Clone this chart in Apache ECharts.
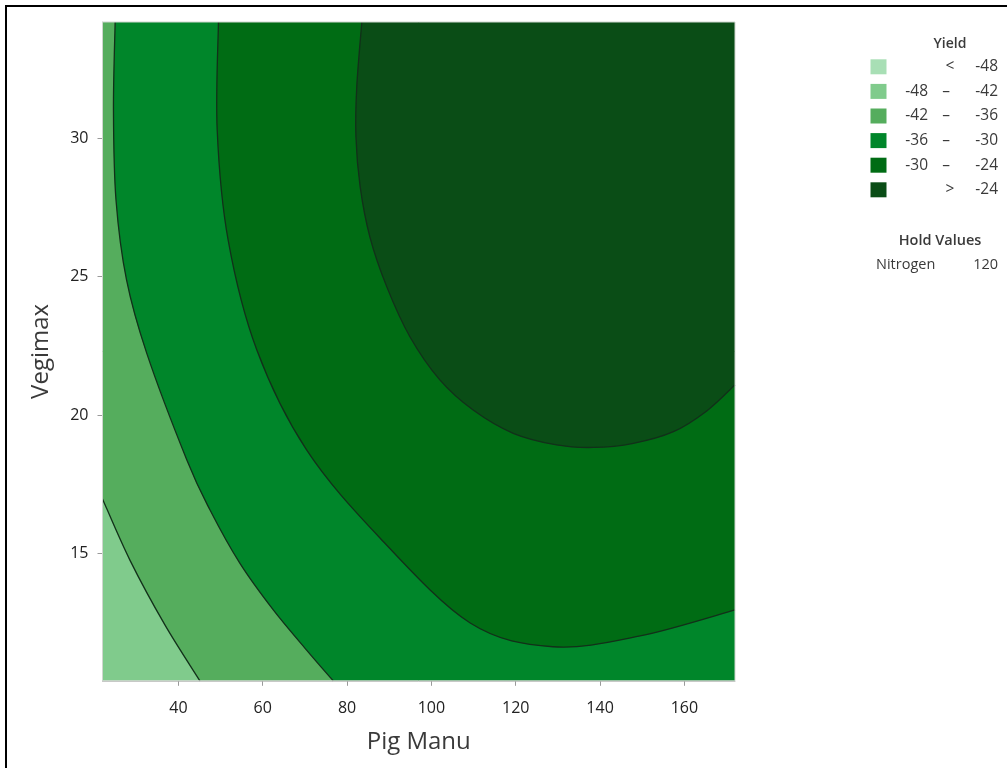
<!DOCTYPE html>
<html><head><meta charset="utf-8">
<script src="https://cdn.jsdelivr.net/npm/echarts@6/dist/echarts.min.js"></script>
<style>html,body{margin:0;padding:0;background:#fff}#c{width:1007px;height:768px}</style>
</head><body><div id="c"></div>
<script>
// ---- data ----
const xRange = [22, 172];          // Pig Manu axis extent
const yRange = [10.4, 34.2];       // Vegimax axis extent
const xTicks = [40, 60, 80, 100, 120, 140, 160];
const yTicks = [15, 20, 25, 30];
const levelLow  = [null, -48, -42, -36, -30, -24];
const levelHigh = [-48, -42, -36, -30, -24, null];
const levelColors = ['#a8dfb5', '#80cb8c', '#55ad5d', '#00862a', '#006c14', '#0a4d16'];
// contour lines [Pig Manu, Vegimax]
const contour42 = [[22,16.97],[28.5,14.76],[36.8,12.42],[45.1,10.4]];
const contour36 = [[25.0,34.2],[24.6,31.02],[25.2,27.77],[27.7,24.88],[32.5,22.23],[42.0,18.38],[47.5,16.57],[54.6,14.64],[62.5,12.96],[70.4,11.51],[76.7,10.4]];
const contour30 = [[49.5,34.2],[49.2,30.3],[51.8,26.32],[58.6,22.35],[70.4,18.74],[87.8,15.56],[109.2,12.49],[128.8,11.63],[149.5,12.02],[172,12.96]];
const contour24 = [[83.5,34.2],[82.3,31.86],[82.1,30.06],[83.1,28.25],[85.4,26.44],[89.4,24.64],[94.9,22.83],[102.0,21.27],[109.9,20.18],[119.4,19.34],[129.7,18.92],[138.4,18.83],[147.9,18.98],[157.4,19.40],[165.3,20.15],[172,21.09]];
const holdFactor = 'Nitrogen';
const holdValue = 120;

// ---- regions (painter's order) ----
const X0 = xRange[0], X1 = xRange[1], Y0 = yRange[0], Y1 = yRange[1];
const regions = [
  { color: 1, contour: null, corners: [[X0,Y0],[X1,Y0],[X1,Y1],[X0,Y1]] },
  { color: 2, contour: contour42, corners: [[X1,Y0],[X1,Y1],[X0,Y1]] },
  { color: 3, contour: contour36, corners: [[X1,Y0],[X1,Y1]] },
  { color: 4, contour: contour30, corners: [[X1,Y1]] },
  { color: 5, contour: contour24, corners: [[X1,Y1]] }
];

function smoothPath(pts) {
  let d = 'M' + pts[0][0] + ' ' + pts[0][1];
  for (let i = 0; i < pts.length - 1; i++) {
    const p0 = pts[Math.max(0, i - 1)], p1 = pts[i], p2 = pts[i + 1], p3 = pts[Math.min(pts.length - 1, i + 2)];
    const c1x = p1[0] + (p2[0] - p0[0]) / 6, c1y = p1[1] + (p2[1] - p0[1]) / 6;
    const c2x = p2[0] - (p3[0] - p1[0]) / 6, c2y = p2[1] - (p3[1] - p1[1]) / 6;
    d += ' C' + c1x + ' ' + c1y + ' ' + c2x + ' ' + c2y + ' ' + p2[0] + ' ' + p2[1];
  }
  return d;
}

function renderItem(params, api) {
  const r = regions[api.value(2)];
  const fill = levelColors[r.color];
  if (!r.contour) {
    const pts = r.corners.map(p => api.coord(p));
    return { type: 'polygon', shape: { points: pts }, style: { fill: fill, stroke: null } };
  }
  const cp = r.contour.map(p => api.coord(p));
  const line = smoothPath(cp);
  let area = line;
  r.corners.forEach(p => { const c = api.coord(p); area += ' L' + c[0] + ' ' + c[1]; });
  area += ' Z';
  return {
    type: 'group',
    children: [
      { type: 'path', shape: { pathData: area }, style: { fill: fill, stroke: null } },
      { type: 'path', shape: { pathData: line }, style: { fill: null, stroke: '#12301a', lineWidth: 1.3 } }
    ]
  };
}

// ---- legend graphics ----
const font = '"Open Sans", "Noto Sans", sans-serif';
const txtColor = '#3a3a3a';
const legendEls = [];
legendEls.push({ type: 'text', x: 950, y: 44, style: { text: 'Yield', fill: txtColor, font: '600 14px ' + font, align: 'center', verticalAlign: 'middle' } });
levelColors.forEach((c, i) => {
  const cy = 66.8 + i * 24.6;
  legendEls.push({ type: 'rect', shape: { x: 870.5, y: cy - 7.5, width: 16, height: 15 }, style: { fill: c } });
  const lo = levelLow[i], hi = levelHigh[i];
  const f = '15.5px ' + font;
  if (lo === null) {
    legendEls.push({ type: 'text', x: 950, y: cy, style: { text: '<', fill: txtColor, font: f, align: 'center', verticalAlign: 'middle' } });
    legendEls.push({ type: 'text', x: 998, y: cy, style: { text: String(hi), fill: txtColor, font: f, align: 'right', verticalAlign: 'middle' } });
  } else if (hi === null) {
    legendEls.push({ type: 'text', x: 950, y: cy, style: { text: '>', fill: txtColor, font: f, align: 'center', verticalAlign: 'middle' } });
    legendEls.push({ type: 'text', x: 998, y: cy, style: { text: String(lo), fill: txtColor, font: f, align: 'right', verticalAlign: 'middle' } });
  } else {
    legendEls.push({ type: 'text', x: 928, y: cy, style: { text: String(lo), fill: txtColor, font: f, align: 'right', verticalAlign: 'middle' } });
    legendEls.push({ type: 'text', x: 946, y: cy, style: { text: '–', fill: txtColor, font: f, align: 'center', verticalAlign: 'middle' } });
    legendEls.push({ type: 'text', x: 998, y: cy, style: { text: String(hi), fill: txtColor, font: f, align: 'right', verticalAlign: 'middle' } });
  }
});
legendEls.push({ type: 'text', x: 940, y: 241, style: { text: 'Hold Values', fill: txtColor, font: '600 14.5px ' + font, align: 'center', verticalAlign: 'middle' } });
legendEls.push({ type: 'text', x: 876, y: 265, style: { text: holdFactor, fill: txtColor, font: '14.5px ' + font, align: 'left', verticalAlign: 'middle' } });
legendEls.push({ type: 'text', x: 998, y: 265, style: { text: String(holdValue), fill: txtColor, font: '14.5px ' + font, align: 'right', verticalAlign: 'middle' } });
// outer frame
legendEls.push({ type: 'rect', shape: { x: 6, y: 6, width: 1100, height: 900 }, style: { fill: null, stroke: '#000', lineWidth: 2 }, z: 100 });

const chart = echarts.init(document.getElementById('c'));
chart.setOption({
  animation: false,
  backgroundColor: '#fff',
  grid: { left: 102.5, right: 272, top: 22, bottom: 87.2, containLabel: false, show: true, borderColor: '#cfd6cf', borderWidth: 1, backgroundColor: 'transparent', z: 3 },
  xAxis: {
    type: 'value', min: X0, max: X1, splitNumber: 7,
    name: 'Pig Manu', nameLocation: 'middle', nameGap: 49,
    nameTextStyle: { fontSize: 24, color: '#3a3a3a', fontFamily: font },
    splitLine: { show: false },
    axisLine: { show: true, onZero: false, lineStyle: { color: '#c4c4c4', width: 1 } },
    axisTick: { show: true, length: 5, lineStyle: { color: '#9a9a9a' }, customValues: xTicks },
    axisLabel: { fontSize: 16, color: '#222', fontFamily: font, margin: 20, customValues: xTicks }
  },
  yAxis: {
    type: 'value', min: Y0, max: Y1, splitNumber: 5,
    name: 'Vegimax', nameLocation: 'middle', nameGap: 49,
    nameTextStyle: { fontSize: 24, color: '#3a3a3a', fontFamily: font },
    splitLine: { show: false },
    axisLine: { show: true, onZero: false, lineStyle: { color: '#c4c4c4', width: 1 } },
    axisTick: { show: true, length: 5, lineStyle: { color: '#9a9a9a' }, customValues: yTicks },
    axisLabel: { fontSize: 16, color: '#222', fontFamily: font, margin: 14, customValues: yTicks }
  },
  graphic: legendEls,
  series: [{
    type: 'custom',
    coordinateSystem: 'cartesian2d',
    renderItem: renderItem,
    encode: { x: 0, y: 1 },
    data: regions.map((r, k) => [X0, Y0, k]),
    silent: true,
    z: 1
  }]
});
</script></body></html>
